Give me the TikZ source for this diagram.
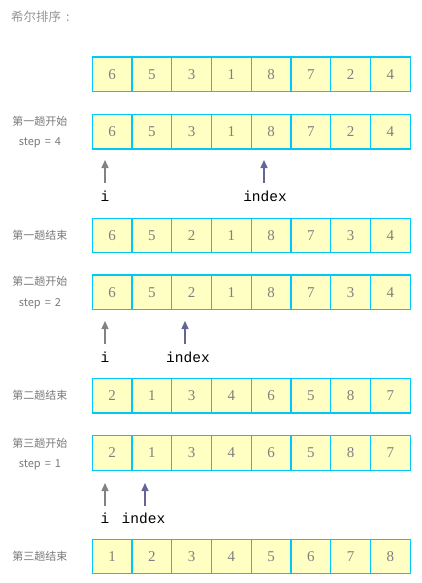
\documentclass[tikz,border=0pt]{standalone}
\usepackage{fontspec}
\setmainfont{Liberation Serif}
\newfontfamily\cjk{Noto Sans CJK SC}
\newfontfamily\monof{Liberation Mono}
\usetikzlibrary{arrows.meta}
\definecolor{cellfill}{RGB}{255,255,196}
\definecolor{celledge}{RGB}{0,200,250}
\definecolor{numgray}{RGB}{128,128,128}
\definecolor{labgray}{RGB}{120,120,120}
\definecolor{titlegray}{RGB}{150,150,150}
\definecolor{iarrowc}{RGB}{130,130,130}
\definecolor{xarrowc}{RGB}{100,100,150}
\tikzset{
  cell/.style={draw=celledge, fill=cellfill, line width=1.2pt, minimum width=39.75pt, minimum height=34.5pt, inner sep=0pt, text=numgray, font=\fontsize{15}{15}\selectfont},
  rowlab/.style={text=labgray, font=\cjk\fontsize{11}{11}\selectfont, inner sep=0pt},
  ptrlab/.style={text=black, font=\monof\fontsize{14.5}{14.5}\selectfont, inner sep=0pt},
  iarrow/.style={draw=iarrowc, line width=1.4pt, -{Triangle[width=7pt,length=8pt]}},
  xarrow/.style={draw=xarrowc, line width=1.4pt, -{Triangle[width=7pt,length=8pt]}},
}
\newcommand{\stepeq}[1]{step\hspace{4pt}=\hspace{4pt}#1}
\begin{document}
\begin{tikzpicture}[x=1pt,y=-1pt]
\useasboundingbox (0,0) rectangle (421,583);
\node[text=titlegray, font=\cjk\fontsize{12.5}{12.5}\selectfont, anchor=west, inner sep=0pt] (title) at (11,17) {希尔排序\hspace{5pt}:};
% rows
\foreach \r/\yc/\vals in {0/74.3/{6,5,3,1,8,7,2,4},1/131.8/{6,5,3,1,8,7,2,4},2/235.5/{6,5,2,1,8,7,3,4},3/292.3/{6,5,2,1,8,7,3,4},4/395.8/{2,1,3,4,6,5,8,7},5/453/{2,1,3,4,6,5,8,7},6/556.5/{1,2,3,4,5,6,7,8}}{
  \foreach \v [count=\k from 0] in \vals {
    \node[cell] (c\r-\k) at ({92.2+39.75*(\k+0.5)},\yc) {\v};
  }
}
% row labels
\node[rowlab] (l1a) at (40,121.7) {第一趟开始};
\node[rowlab] (l1b) at (40,143) {\stepeq{4}};
\node[rowlab] (l2) at (40,235) {第一趟结束};
\node[rowlab] (l3a) at (40,281.7) {第二趟开始};
\node[rowlab] (l3b) at (40,304) {\stepeq{2}};
\node[rowlab] (l4) at (40,395) {第二趟结束};
\node[rowlab] (l5a) at (40,443) {第三趟开始};
\node[rowlab] (l5b) at (40,465) {\stepeq{1}};
\node[rowlab] (l6) at (40,556.7) {第三趟结束};
% pointers pass 1
\coordinate (i1t) at (105,183); \coordinate (i1h) at (105,160);
\coordinate (x1t) at (264,183); \coordinate (x1h) at (264,160);
\draw[iarrow] (i1t) -- (i1h);
\draw[xarrow] (x1t) -- (x1h);
\node[ptrlab] (i1) at (105,196) {i};
\node[ptrlab] (x1) at (265,196) {index};
% pass 2
\coordinate (i3t) at (105,344); \coordinate (i3h) at (105,321);
\coordinate (x3t) at (185,344); \coordinate (x3h) at (185,321);
\draw[iarrow] (i3t) -- (i3h);
\draw[xarrow] (x3t) -- (x3h);
\node[ptrlab] (i3) at (105,357) {i};
\node[ptrlab] (x3) at (188,357) {index};
% pass 3
\coordinate (i5t) at (105,506); \coordinate (i5h) at (105,483);
\coordinate (x5t) at (145,506); \coordinate (x5h) at (145,483);
\draw[iarrow] (i5t) -- (i5h);
\draw[xarrow] (x5t) -- (x5h);
\node[ptrlab] (i5) at (105,518) {i};
\node[ptrlab] (x5) at (143.5,518) {index};
\end{tikzpicture}
\end{document}
